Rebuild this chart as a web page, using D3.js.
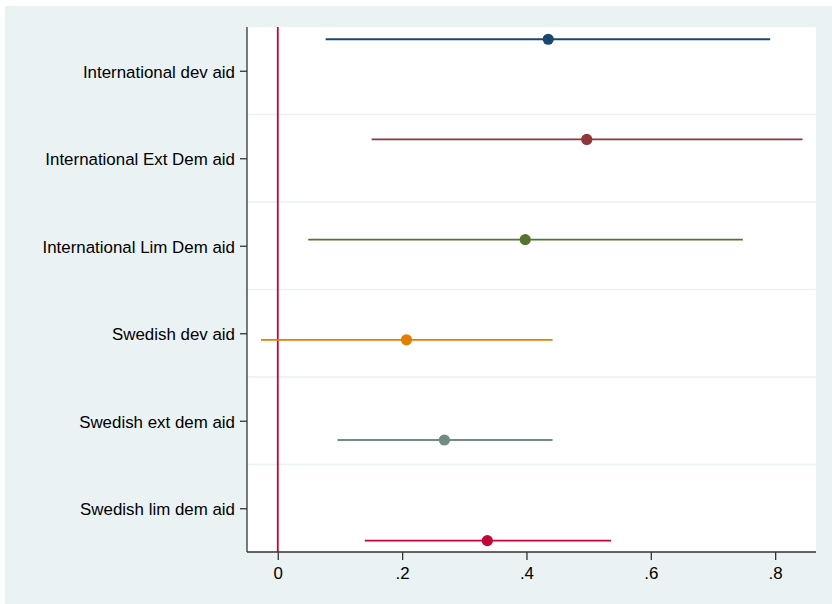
<!DOCTYPE html>
<html>
<head>
<meta charset="utf-8">
<script src="https://cdn.jsdelivr.net/npm/d3@7"></script>
<style>
  html, body { margin: 0; padding: 0; background: #ffffff; }
  svg { display: block; }
  text { font-family: "Liberation Sans", Arial, sans-serif; }
</style>
</head>
<body>
<svg id="chart" width="832" height="604"></svg>
<script>
// ---- data ----
const categories = [
  "International dev aid",
  "International Ext Dem aid",
  "International Lim Dem aid",
  "Swedish dev aid",
  "Swedish ext dem aid",
  "Swedish lim dem aid"
];
const estimates = [0.435, 0.497, 0.398, 0.207, 0.268, 0.337];
const ciLow     = [0.077, 0.151, 0.049, -0.027, 0.096, 0.140];
const ciHigh    = [0.792, 0.844, 0.748, 0.442, 0.442, 0.536];
// vertical position of each estimate on the category axis (1 = first category)
const markerPos = [0.64, 1.785, 2.93, 4.075, 5.22, 6.37];
const colors    = ["#1a476f", "#90353b", "#55752f", "#e37e00", "#6e8e84", "#c10534"];
const xTicks    = [0, 0.2, 0.4, 0.6, 0.8];
const xTickLabels = ["0", ".2", ".4", ".6", ".8"];
const refLine   = 0;

// ---- layout ----
const svg = d3.select("#chart");
const W = 832, H = 604;
const plot = { left: 247, right: 816, top: 27, bottom: 552 };
const FS = 16.9;

svg.append("rect").attr("x", 5).attr("y", 6).attr("width", W - 5).attr("height", H - 6)
   .attr("fill", "#eaf2f3");
svg.append("rect").attr("x", plot.left).attr("y", plot.top)
   .attr("width", plot.right - plot.left).attr("height", plot.bottom - plot.top)
   .attr("fill", "#ffffff");

const x = d3.scaleLinear().domain([-0.0495, 0.8657]).range([plot.left, plot.right]);
const y = d3.scaleLinear().domain([0.5, categories.length + 0.5]).range([plot.top, plot.bottom]);

// gridlines between categories
const gridVals = d3.range(1.5, categories.length, 1);
svg.append("g").selectAll("line").data(gridVals).join("line")
  .attr("x1", plot.left).attr("x2", plot.right)
  .attr("y1", d => y(d)).attr("y2", d => y(d))
  .attr("stroke", "#eaf2f3").attr("stroke-width", 1.6);

// reference line
svg.append("line")
  .attr("x1", x(refLine)).attr("x2", x(refLine))
  .attr("y1", plot.top).attr("y2", plot.bottom)
  .attr("stroke", "#c10534").attr("stroke-width", 1.8);

// x axis
const xAxis = d3.axisBottom(x).tickValues(xTicks)
  .tickFormat((d, i) => xTickLabels[i]).tickSize(8).tickPadding(7);
const gx = svg.append("g").attr("transform", `translate(0,${plot.bottom})`).call(xAxis);
gx.select(".domain").attr("stroke", "#333").attr("stroke-width", 1.3)
  .attr("d", `M${plot.left},0H${plot.right}`);
gx.selectAll(".tick line").attr("stroke", "#333").attr("stroke-width", 1.3);
gx.selectAll(".tick text").attr("fill", "#000").attr("font-size", FS)
  .attr("font-family", "Liberation Sans, Arial, sans-serif");

// y axis
const yAxis = d3.axisLeft(y).tickValues(d3.range(1, categories.length + 1))
  .tickFormat(d => categories[d - 1]).tickSize(7).tickPadding(5);
const gy = svg.append("g").attr("transform", `translate(${plot.left},0)`).call(yAxis);
gy.select(".domain").attr("stroke", "#333").attr("stroke-width", 1.3)
  .attr("d", `M0,${plot.top}V${plot.bottom}`);
gy.selectAll(".tick line").attr("stroke", "#333").attr("stroke-width", 1.3);
gy.selectAll(".tick text").attr("fill", "#000").attr("font-size", FS)
  .attr("font-family", "Liberation Sans, Arial, sans-serif").attr("dy", "0.38em");

// confidence intervals
const rows = categories.map((c, i) => ({
  cat: c, est: estimates[i], lo: ciLow[i], hi: ciHigh[i], pos: markerPos[i], color: colors[i]
}));
svg.append("g").selectAll("line").data(rows).join("line")
  .attr("x1", d => x(d.lo)).attr("x2", d => x(d.hi))
  .attr("y1", d => y(d.pos)).attr("y2", d => y(d.pos))
  .attr("stroke", d => d.color).attr("stroke-width", 1.8);

// point estimates
svg.append("g").selectAll("circle").data(rows).join("circle")
  .attr("cx", d => x(d.est)).attr("cy", d => y(d.pos)).attr("r", 5.6)
  .attr("fill", d => d.color);
</script>
</body>
</html>
